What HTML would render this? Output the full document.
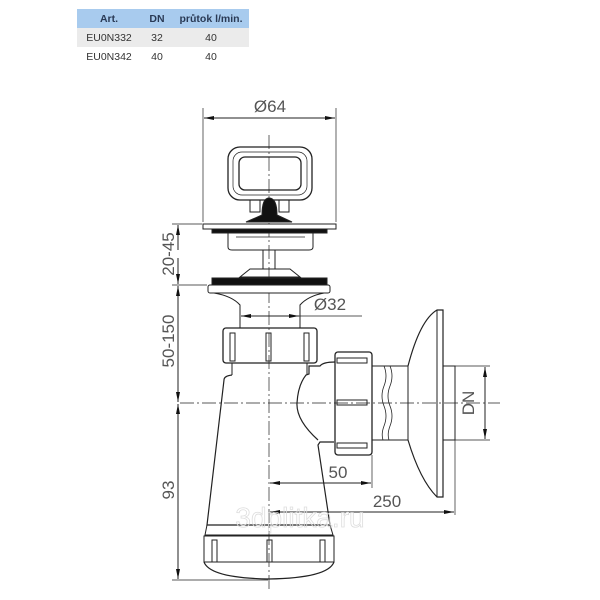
<!DOCTYPE html>
<html><head><style>
body{margin:0;background:#fff;width:600px;height:600px;overflow:hidden;font-family:"Liberation Sans",sans-serif}
table{position:absolute;left:77px;top:9px;border-collapse:collapse;font-size:10.5px;color:#333}
td,th{height:19px;padding:0;text-align:center}
th{background:#a8cbee;font-weight:bold;color:#2a3a55}
tr.g td{background:#ebebeb}
</style></head><body>
<table>
<tr><th style="width:64px">Art.</th><th style="width:32px">DN</th><th style="width:76px">průtok l/min.</th></tr>
<tr class="g"><td>EU0N332</td><td>32</td><td>40</td></tr>
<tr><td>EU0N342</td><td>40</td><td>40</td></tr>
</table>
<svg width="600" height="600" style="position:absolute;left:0;top:0" font-family="Liberation Sans, sans-serif">
<defs><marker id="a" viewBox="0 0 10 4" refX="10" refY="2" markerWidth="10" markerHeight="4" orient="auto-start-reverse" markerUnits="userSpaceOnUse"><path d="M0,0L10,2L0,4z" fill="#111"/></marker></defs>
<g stroke="#222" stroke-width="1" fill="none">
<line x1="269" y1="135" x2="269" y2="590" stroke-dasharray="14,3,2,3" stroke-width="0.7"/>
<line x1="180" y1="403" x2="500" y2="403" stroke-dasharray="14,3,2,3" stroke-width="0.7"/>
<line x1="203" y1="108" x2="203" y2="222" stroke-width="0.7"/>
<line x1="336" y1="108" x2="336" y2="222" stroke-width="0.7"/>
<line x1="204" y1="118" x2="335" y2="118" marker-start="url(#a)" marker-end="url(#a)"/>
<rect x="228" y="147" width="84" height="53" rx="12" stroke-width="1.3"/>
<rect x="233" y="152" width="74" height="43" rx="9" stroke-width="0.7"/>
<rect x="239" y="157" width="62" height="33" rx="6" stroke-width="1.3"/>
<rect x="250" y="200" width="10" height="12"/><rect x="279" y="200" width="10" height="12"/>
<path d="M262,215 Q262,198 269,198 Q277,198 277,215 L292,222 L246,222 Z" fill="#111"/>
<rect x="203" y="224" width="133" height="5" fill="#fff"/>
<rect x="212" y="229" width="115" height="4" fill="#111"/>
<path d="M228,233 L228,247 Q228,250 232,250 L309,250 Q313,250 313,247 L313,233"/>
<line x1="236" y1="237" x2="305" y2="237" stroke-width="0.7"/>
<rect x="263" y="250" width="12" height="19"/>
<path d="M240,277 L250,269 L290,269 L300,277 Z"/>
<rect x="212" y="278" width="115" height="7" fill="#111"/>
<rect x="208" y="285" width="122" height="8" rx="2" fill="#fff"/>
<path d="M214,293 Q232,296 240,305 L240,328 M324,293 Q308,296 300,305 L300,328"/>
<line x1="241" y1="316" x2="299" y2="316" marker-start="url(#a)" marker-end="url(#a)"/>
<line x1="299" y1="316" x2="362" y2="316" stroke-width="0.7"/>
<rect x="223" y="328" width="94" height="35" rx="3" stroke-width="1.3"/>
<rect x="230" y="333" width="5" height="28"/><rect x="266" y="333" width="5" height="28"/><rect x="304" y="333" width="5" height="28"/>
<path d="M232,363 L232,375 M307,363 L307,375"/>
<path d="M232,375 Q224,376 224,380 L207,525 L330,525 L318,445 L320,442 L334,442 M318,440 Q296,420 297,403 Q298,385 306,375 L309,374 L309,366 L320,366 Q323,362 335,362" stroke-width="1.2"/>
<rect x="335" y="352" width="37" height="103" rx="3" stroke-width="1.3"/>
<rect x="337" y="358" width="30" height="5"/><rect x="337" y="400" width="30" height="5"/><rect x="337" y="443" width="30" height="5"/>
<path d="M372,366 L408,366 M372,440 L408,440"/>
<path d="M384,366 q4,10 0,20 q-4,10 0,20 q4,10 0,20 q-3,8 -1,14 M390,366 q4,10 0,20 q-4,10 0,20 q4,10 0,20 q-3,8 -1,14" stroke-width="0.8"/>
<line x1="408" y1="366" x2="408" y2="440"/>
<path d="M408,366 Q420,320 437,310 L443,310 L443,497 L437,497 Q420,480 408,440" stroke-width="1.2"/>
<line x1="437" y1="310" x2="437" y2="497"/>
<rect x="443" y="366" width="12" height="74"/>
<line x1="455" y1="366" x2="490" y2="366" stroke-width="0.7"/>
<line x1="455" y1="440" x2="490" y2="440" stroke-width="0.7"/>
<line x1="485" y1="367" x2="485" y2="439" marker-start="url(#a)" marker-end="url(#a)"/>
<line x1="372" y1="455" x2="372" y2="488" stroke-width="0.7"/>
<line x1="455" y1="440" x2="455" y2="515" stroke-width="0.7"/>
<line x1="270" y1="483" x2="371" y2="483" marker-start="url(#a)" marker-end="url(#a)"/>
<line x1="270" y1="512" x2="454" y2="512" marker-start="url(#a)" marker-end="url(#a)"/>
<path d="M207,525 L205,535 L333,535 L330,525"/>
<rect x="204" y="536" width="130" height="26"/>
<rect x="212" y="540" width="5" height="22"/><rect x="267" y="540" width="5" height="22"/><rect x="320" y="540" width="5" height="22"/>
<path d="M204,562 Q210,578 269,579 Q328,578 334,562" stroke-width="1.2"/>
<line x1="172" y1="224" x2="202" y2="224" stroke-width="0.7"/>
<line x1="172" y1="285" x2="207" y2="285" stroke-width="0.7"/>
<line x1="172" y1="580" x2="268" y2="580" stroke-width="0.7"/>
<line x1="178" y1="225" x2="178" y2="250" marker-start="url(#a)"/>
<line x1="178" y1="258" x2="178" y2="284" marker-end="url(#a)"/>
<line x1="178" y1="286" x2="178" y2="402" marker-start="url(#a)" marker-end="url(#a)"/>
<line x1="178" y1="404" x2="178" y2="579" marker-start="url(#a)" marker-end="url(#a)"/>
</g>
<g fill="#555" font-size="17">
<text x="270" y="112" text-anchor="middle">Ø64</text>
<text x="330" y="310" text-anchor="middle">Ø32</text>
<text x="338" y="478" text-anchor="middle">50</text>
<text x="387" y="507" text-anchor="middle">250</text>
<text transform="translate(474,403) rotate(-90)" text-anchor="middle">DN</text>
<text transform="translate(174,254) rotate(-90)" text-anchor="middle">20-45</text>
<text transform="translate(174,341) rotate(-90)" text-anchor="middle">50-150</text>
<text transform="translate(174,490) rotate(-90)" text-anchor="middle">93</text>
</g>
<text x="300" y="527" text-anchor="middle" font-size="28" fill="none" stroke="#ddd" stroke-width="0.8">3dplitka.ru</text>
</svg>
</body></html>
